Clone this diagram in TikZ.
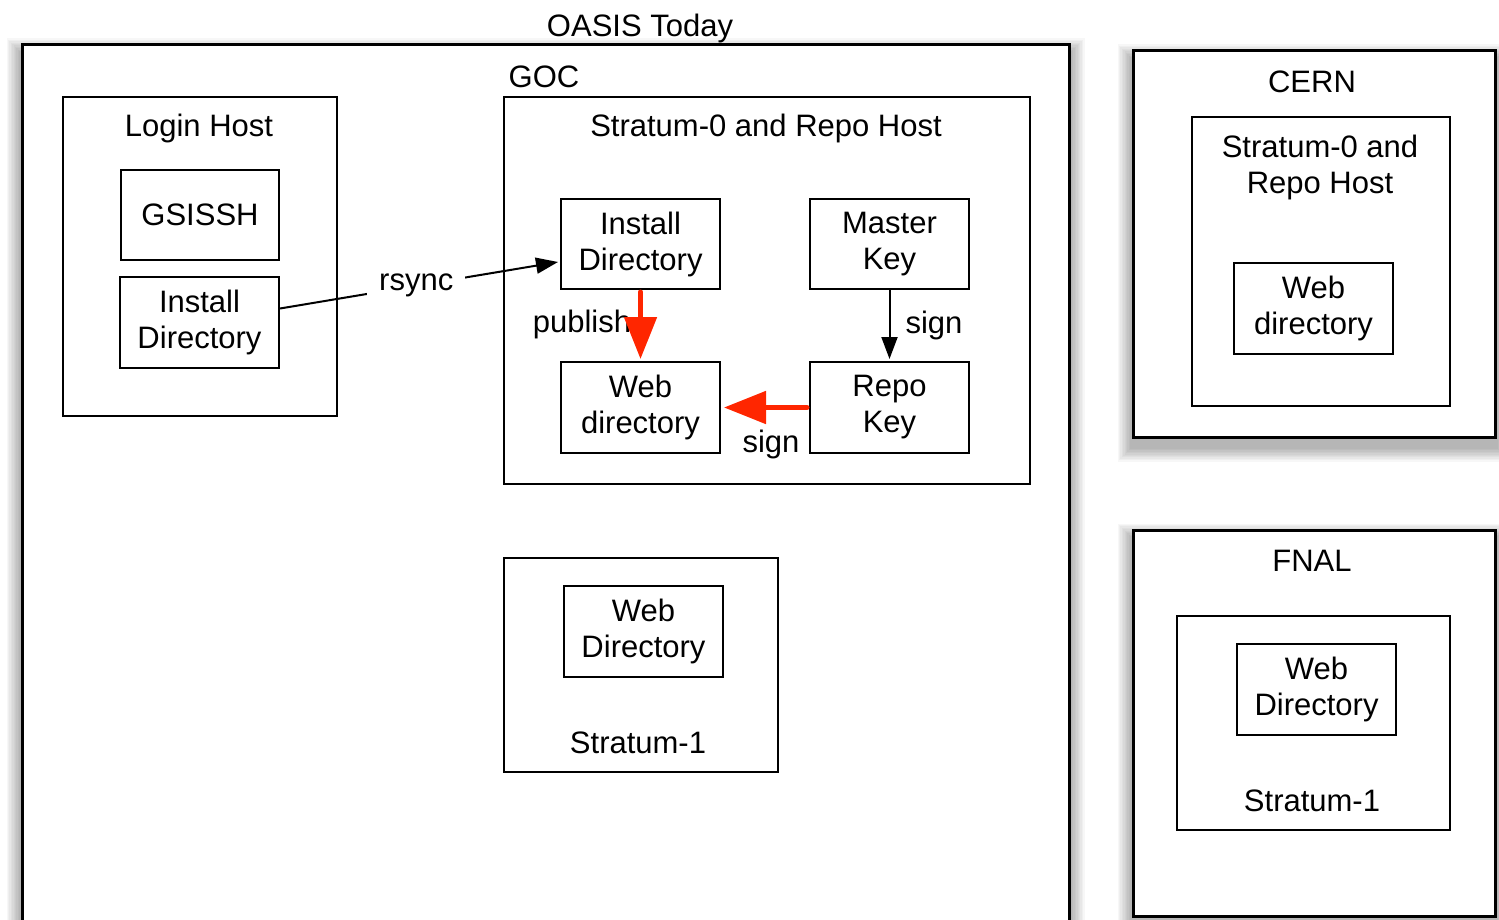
\documentclass[tikz,border=0pt]{standalone}
\usepackage{fontspec}
\setmainfont{Liberation Sans}
\usetikzlibrary{arrows.meta,calc}

\definecolor{flowred}{RGB}{255,38,0}

\tikzset{
  box/.style={draw=black, line width=2pt, fill=white, inner sep=0pt, align=center},
  outerbox/.style={draw=black, line width=3pt, fill=white, inner sep=0pt},
  txt/.style={inner sep=0pt, align=center},
  blackarrow/.style={draw=black, line width=2pt, -{Triangle[width=16pt,length=22pt]}},
  redarrow/.style={draw=flowred, line width=5pt, line cap=round, -{Triangle[width=32pt,length=42pt]}},
}

% soft shadow behind a node, slightly offset downwards
\newcommand\softshadow[1]{%
  \foreach \i in {1,...,10}{%
    \fill[black, opacity=0.03]
      ($(#1.south west)+(-1.4*\i,9+1.4*\i)$) rectangle ($(#1.north east)+(1.4*\i,9-1.4*\i)$);
  }%
}

\begin{document}
\begin{tikzpicture}[x=1pt, y=-1pt, font=\fontsize{31}{36}\selectfont]
  \useasboundingbox (0,0) rectangle (1499,920);
  \fill[white] (0,0) rectangle (1499,920);

  % outermost containers
  \path (545.5,505) node[outerbox, draw=none, minimum width=1047pt, minimum height=920pt] (oasisbb) {};
  \softshadow{oasisbb}
  \node[outerbox, minimum width=1047pt, minimum height=920pt] (oasis) at (545.5,505) {};

  \path (1314,244) node[outerbox, draw=none, minimum width=362pt, minimum height=386pt] (cernbb) {};
  \softshadow{cernbb}
  \node[outerbox, minimum width=362pt, minimum height=386pt] (cern) at (1314,244) {};

  \path (1314,723) node[outerbox, draw=none, minimum width=362pt, minimum height=386pt] (fnalbb) {};
  \softshadow{fnalbb}
  \node[outerbox, minimum width=362pt, minimum height=386pt] (fnal) at (1314,723) {};

  % titles
  \node[txt] (oasistitle) at (640,28) {OASIS Today};
  \node[txt] (goctitle) at (544,77) {GOC};

  % login host
  \node[box, minimum width=274pt, minimum height=319pt] (login) at (200,256.5) {};
  \node[txt] (logintitle) at (199,128) {Login Host};
  \node[box, minimum width=158pt, minimum height=90pt] (gsissh) at (200,215) {GSISSH};
  \node[box, minimum width=159pt, minimum height=91pt] (leftinst) at (199.5,322.5) {Install\\Directory};

  % stratum-0 at GOC
  \node[box, minimum width=526pt, minimum height=387pt] (s0) at (767,290.5) {};
  \node[txt] (s0title) at (766,128) {Stratum-0 and Repo Host};
  \node[box, minimum width=159pt, minimum height=90pt] (instdir) at (640.5,244) {Install\\Directory};
  \node[box, minimum width=159pt, minimum height=90pt] (masterkey) at (889.5,244) {Master\\Key};
  \node[box, minimum width=159pt, minimum height=91pt] (webdir) at (640.5,407.5) {Web\\directory};
  \node[box, minimum width=159pt, minimum height=91pt] (repokey) at (889.5,407.5) {Repo\\Key};

  % stratum-1 at GOC
  \node[box, minimum width=274pt, minimum height=214pt] (s1) at (641,665) {};
  \node[box, minimum width=159pt, minimum height=91pt] (s1web) at (643.5,631.5) {Web\\Directory};
  \node[txt] (s1title) at (638,743) {Stratum-1};

  % CERN
  \node[txt] (cerntitle) at (1312,82) {CERN};
  \node[box, minimum width=258pt, minimum height=289pt] (cerninner) at (1321,261.5) {};
  \node[txt] (cerns0title) at (1320,167) {Stratum-0 and\\Repo Host};
  \node[box, minimum width=159pt, minimum height=91pt] (cernweb) at (1313.5,308.5) {Web\\directory};

  % FNAL
  \node[txt] (fnaltitle) at (1312,561) {FNAL};
  \node[box, minimum width=273pt, minimum height=214pt] (fnalinner) at (1313.5,723) {};
  \node[box, minimum width=159pt, minimum height=91pt] (fnalweb) at (1316.5,689.5) {Web\\Directory};
  \node[txt] (fnals1title) at (1312,801) {Stratum-1};

  % connectors
  \draw[blackarrow] ($(leftinst.east)+(0,-14)$) -- ($(instdir.west)+(-2,18)$)
    node[pos=0.49, fill=white, inner xsep=12pt, inner ysep=4pt] (rsynclabel) {rsync};

  \node[txt] (publishlabel) at (582,324) {publish};
  \draw[redarrow, shorten <=2pt, shorten >=2pt] (instdir.south) -- (webdir.north);

  \draw[blackarrow, shorten >=2pt] (masterkey.south) -- (repokey.north)
    node[txt, pos=0.5, right=15pt] (signlabel1) {sign};

  \draw[redarrow, shorten <=2pt, shorten >=3pt] (repokey.west) -- (webdir.east);
  \node[txt] (signlabel2) at (771,444) {sign};
\end{tikzpicture}
\end{document}
